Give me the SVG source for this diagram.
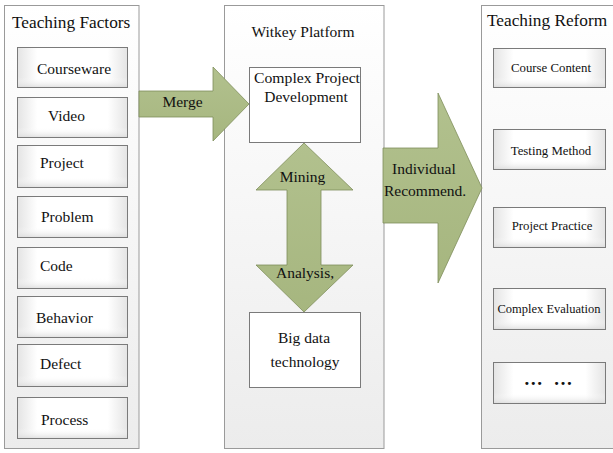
<svg xmlns="http://www.w3.org/2000/svg" width="613" height="453" viewBox="0 0 613 453" font-family="'Liberation Serif', 'Times New Roman', Times, serif">
<defs>
<linearGradient id="panelg" x1="0" y1="0" x2="0" y2="1">
<stop offset="0" stop-color="#ffffff"/>
<stop offset="1" stop-color="#ececec"/>
</linearGradient>
<linearGradient id="boxg" x1="0" y1="0" x2="1" y2="0">
<stop offset="0" stop-color="#e4e4e4"/>
<stop offset="0.18" stop-color="#ffffff"/>
<stop offset="0.82" stop-color="#ffffff"/>
<stop offset="1" stop-color="#e4e4e4"/>
</linearGradient>
<linearGradient id="boxv" x1="0" y1="0" x2="0" y2="1">
<stop offset="0" stop-color="#ffffff" stop-opacity="0"/>
<stop offset="0.75" stop-color="#ffffff" stop-opacity="0"/>
<stop offset="1" stop-color="#dcdcdc" stop-opacity="0.8"/>
</linearGradient>
<linearGradient id="arrowg" x1="0" y1="0" x2="0" y2="1">
<stop offset="0" stop-color="#b2c18e"/>
<stop offset="1" stop-color="#a6b67f"/>
</linearGradient>
</defs>
<style>
.panel{fill:url(#panelg);stroke:#9a9a9a;stroke-width:1}
.box{fill:url(#boxg);stroke:#7a7a7a;stroke-width:1}
.shade{fill:url(#boxv);stroke:none}
.wbox{fill:#ffffff;stroke:#7a7a7a;stroke-width:1}
.arrow{fill:url(#arrowg);stroke:#7f8e5a;stroke-width:0.8}
text{font-family:"Liberation Serif","Times New Roman",Times,serif;fill:#111}
.title{font-size:17.3px}
.lbl{font-size:15.5px}
.rl{font-size:12.8px;text-anchor:middle}
.mid{text-anchor:middle}
</style>

<g id="panel-teaching-factors">
<rect class="panel" x="4.5" y="5.5" width="134.5" height="443"/>
<text class="title" x="12" y="28">Teaching Factors</text>
</g>
<g id="panel-witkey">
<rect class="panel" x="224.5" y="5.5" width="159.5" height="443"/>
<text class="lbl mid" x="303" y="37">Witkey Platform</text>
</g>
<g id="panel-teaching-reform">
<rect class="panel" x="481.5" y="5.5" width="140" height="443"/>
<text class="title" x="487" y="26">Teaching Reform</text>
</g>

<g id="f-courseware"><rect class="box" x="17.5" y="47.5" width="110" height="40"/><rect class="shade" x="18" y="48" width="109" height="39"/><text class="lbl" x="37" y="74">Courseware</text></g>
<g id="f-video"><rect class="box" x="17.5" y="97.5" width="110" height="40"/><rect class="shade" x="18" y="98" width="109" height="39"/><text class="lbl" x="48" y="121">Video</text></g>
<g id="f-project"><rect class="box" x="17.5" y="145.5" width="110" height="42"/><rect class="shade" x="18" y="146" width="109" height="41"/><text class="lbl" x="40" y="168">Project</text></g>
<g id="f-problem"><rect class="box" x="17.5" y="196.5" width="110" height="41"/><rect class="shade" x="18" y="197" width="109" height="40"/><text class="lbl" x="41" y="222">Problem</text></g>
<g id="f-code"><rect class="box" x="17.5" y="247.5" width="110" height="41"/><rect class="shade" x="18" y="248" width="109" height="40"/><text class="lbl" x="40" y="271">Code</text></g>
<g id="f-behavior"><rect class="box" x="17.5" y="296.5" width="110" height="41"/><rect class="shade" x="18" y="297" width="109" height="40"/><text class="lbl" x="36" y="323">Behavior</text></g>
<g id="f-defect"><rect class="box" x="17.5" y="344.5" width="110" height="42"/><rect class="shade" x="18" y="345" width="109" height="41"/><text class="lbl" x="40" y="369">Defect</text></g>
<g id="f-process"><rect class="box" x="17.5" y="397.5" width="110" height="41"/><rect class="shade" x="18" y="398" width="109" height="40"/><text class="lbl" x="41" y="425">Process</text></g>

<g id="n-complex-project">
<rect class="wbox" x="249.5" y="67.5" width="111" height="75"/>
<text class="lbl" x="254" y="83" textLength="106" lengthAdjust="spacingAndGlyphs">Complex Project</text>
<text class="lbl mid" x="306" y="102">Development</text>
</g>
<g id="n-big-data">
<rect class="wbox" x="249.5" y="312.5" width="111" height="75"/>
<text class="lbl mid" x="304" y="343">Big data</text>
<text class="lbl mid" x="305" y="367">technology</text>
</g>

<g id="r-course-content"><rect class="box" x="493.5" y="48.5" width="112" height="39"/><rect class="shade" x="494" y="49" width="111" height="38"/><text class="rl" x="551" y="72">Course Content</text></g>
<g id="r-testing-method"><rect class="box" x="493.5" y="129.5" width="112" height="40"/><rect class="shade" x="494" y="130" width="111" height="39"/><text class="rl" x="551" y="155">Testing Method</text></g>
<g id="r-project-practice"><rect class="box" x="493.5" y="207.5" width="112" height="40"/><rect class="shade" x="494" y="208" width="111" height="39"/><text class="rl" x="552" y="230">Project Practice</text></g>
<g id="r-complex-evaluation"><rect class="box" x="493.5" y="288.5" width="112" height="41"/><rect class="shade" x="494" y="289" width="111" height="40"/><text class="rl" x="549" y="313" textLength="103" lengthAdjust="spacingAndGlyphs">Complex Evaluation</text></g>
<g id="r-more"><rect class="box" x="493.5" y="362.5" width="112" height="41"/><rect class="shade" x="494" y="363" width="111" height="40"/><text class="mid" x="548" y="385" style="font-size:19px;font-weight:bold;word-spacing:6px">… …</text></g>

<g id="connectors">
<g id="c-merge">
<polygon class="arrow" points="139,91 213,91 213,67 249,104 213,141 213,117 139,117"/>
<text class="lbl mid" x="182.5" y="107">Merge</text>
</g>
<g id="c-mining-analysis">
<polygon class="arrow" points="304,143 353,190 321,190 321,265 353,265 304,312 256,265 287,265 287,190 256,190"/>
<text class="lbl mid" x="302.5" y="182">Mining</text>
<text class="lbl mid" x="305" y="278">Analysis,</text>
</g>
<g id="c-recommend">
<polygon class="arrow" points="383,148 438,148 438,93 482,188 438,283 438,223 383,223"/>
<text class="lbl" x="392" y="174">Individual</text>
<text class="lbl" x="384" y="196">Recommend.</text>
</g>
</g>
</svg>
